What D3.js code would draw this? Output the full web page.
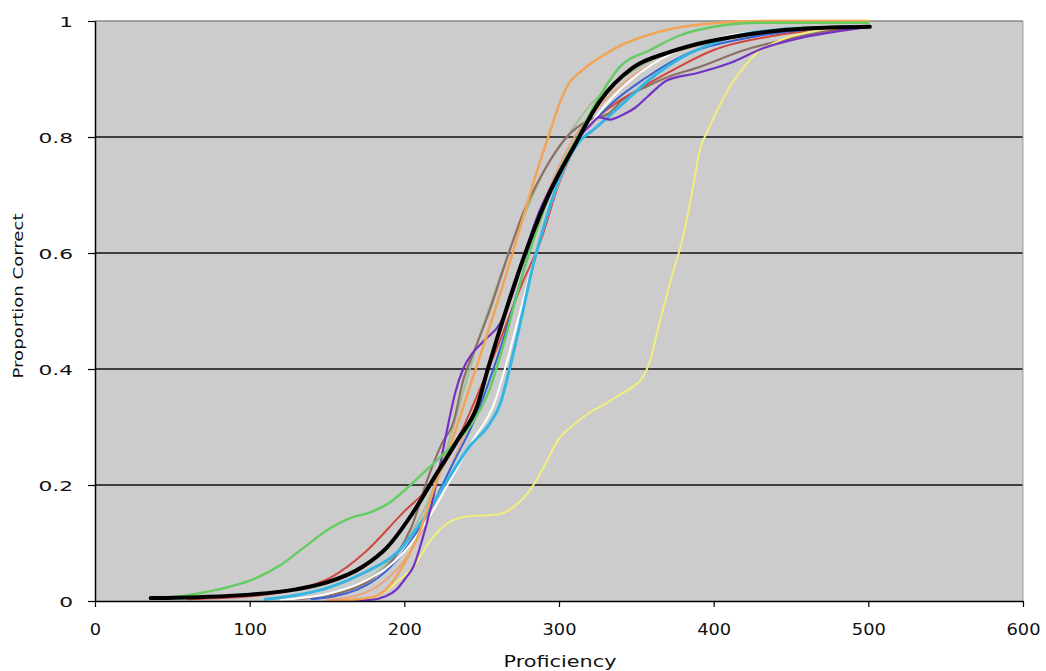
<!DOCTYPE html>
<html>
<head>
<meta charset="utf-8">
<script src="https://cdn.jsdelivr.net/npm/d3@7"></script>
<style>
  html, body { margin: 0; padding: 0; background: #ffffff; }
  svg { display: block; }
</style>
</head>
<body>
<svg id="chart" width="1046" height="671"></svg>
<script>
// ---- Data (proficiency, proportion correct) ----
const xTicks = [0, 100, 200, 300, 400, 500, 600];
const yTicks = [0, 0.2, 0.4, 0.6, 0.8, 1];
const yTickLabels = ["0", "0.2", "0.4", "0.6", "0.8", "1"];

const paleGreenCurve = [[120,0.002],[150,0.01],[175,0.035],[200,0.1],[215,0.17],[226,0.25],[238,0.36],[249,0.46],[258,0.53],[268,0.605],[280,0.68],[292,0.75],[305,0.8],[320,0.855],[340,0.9],[370,0.945],[410,0.975],[460,0.988],[500,0.992]];
const salmonCurve = [[150,0.002],[170,0.01],[185,0.03],[200,0.07],[215,0.14],[230,0.23],[245,0.33],[258,0.43],[270,0.53],[282,0.63],[295,0.72],[310,0.8],[325,0.85],[345,0.9],[370,0.94],[410,0.97],[460,0.985],[500,0.99]];
const brownCurve = [[130,0.003],[160,0.015],[180,0.04],[195,0.08],[205,0.13],[215,0.21],[224,0.27],[232,0.31],[238,0.38],[245,0.43],[255,0.5],[265,0.58],[277,0.67],[290,0.74],[305,0.8],[320,0.83],[332,0.84],[341,0.864],[355,0.885],[370,0.903],[390,0.92],[420,0.95],[450,0.97],[480,0.985],[500,0.99]];
const redCurve = [[60,0.003],[100,0.008],[130,0.02],[152,0.04],[175,0.085],[199,0.152],[217,0.2],[233,0.27],[248,0.36],[262,0.45],[275,0.54],[288,0.62],[300,0.72],[310,0.78],[320,0.82],[335,0.855],[350,0.88],[370,0.91],[400,0.95],[440,0.975],[500,0.99]];
const blueCurve = [[140,0.003],[170,0.02],[195,0.07],[215,0.15],[232,0.24],[245,0.31],[255,0.38],[265,0.46],[275,0.55],[284,0.63],[295,0.71],[308,0.78],[320,0.82],[335,0.86],[355,0.9],[380,0.94],[420,0.97],[460,0.985],[500,0.99]];
const whiteCurve = [[120,0.002],[150,0.012],[175,0.035],[200,0.085],[215,0.14],[228,0.2],[245,0.28],[258,0.34],[266,0.41],[274,0.49],[283,0.58],[293,0.67],[304,0.75],[316,0.805],[330,0.855],[345,0.895],[360,0.925],[380,0.952],[410,0.975],[450,0.986],[500,0.99]];
const cyanCurve = [[110,0.003],[130,0.01],[152,0.024],[175,0.05],[195,0.083],[212,0.14],[228,0.209],[242,0.266],[255,0.305],[262,0.34],[268,0.4],[275,0.48],[283,0.576],[292,0.662],[302,0.74],[314,0.795],[322,0.812],[337,0.847],[359,0.9],[378,0.935],[400,0.962],[421,0.978],[460,0.988],[500,0.99]];
const yellowCurve = [[175,0.0],[186,0.014],[196,0.035],[206,0.059],[217,0.105],[225,0.128],[232,0.14],[238,0.145],[246,0.147],[255,0.148],[262,0.15],[272,0.165],[281,0.19],[290,0.23],[300,0.28],[310,0.305],[320,0.325],[330,0.34],[339,0.355],[348,0.37],[354,0.385],[359,0.415],[364,0.47],[369,0.52],[374,0.57],[378,0.605],[382,0.65],[385,0.69],[388,0.735],[391,0.777],[396,0.81],[403,0.85],[412,0.893],[420,0.922],[428,0.945],[436,0.958],[443,0.967],[460,0.98],[480,0.988],[500,0.99]];
const purpleCurve = [[150,0.0],[178,0.002],[188,0.008],[195,0.02],[201,0.04],[206,0.06],[212,0.11],[217,0.16],[222,0.22],[228,0.3],[233,0.36],[238,0.4],[244,0.427],[252,0.45],[262,0.479],[270,0.53],[278,0.6],[287,0.67],[296,0.72],[304,0.76],[312,0.795],[320,0.82],[326,0.834],[333,0.83],[341,0.838],[349,0.85],[357,0.869],[370,0.898],[389,0.91],[411,0.928],[432,0.953],[455,0.97],[475,0.98],[500,0.99]];
const orangeCurve = [[150,0.0],[170,0.003],[180,0.007],[190,0.025],[199,0.06],[210,0.12],[220,0.2],[230,0.27],[240,0.35],[253,0.455],[262,0.53],[270,0.6],[280,0.69],[288,0.76],[293,0.8],[300,0.855],[305,0.886],[315,0.915],[326,0.936],[340,0.958],[359,0.977],[380,0.99],[400,0.996],[430,1.0],[500,1.0]];
const greenCurve = [[36,0.004],[60,0.01],[80,0.02],[100,0.035],[120,0.062],[135,0.092],[150,0.122],[165,0.143],[178,0.153],[189,0.167],[202,0.195],[210,0.215],[220,0.24],[232,0.27],[244,0.307],[255,0.364],[265,0.45],[275,0.55],[287,0.65],[300,0.74],[312,0.8],[326,0.869],[339,0.92],[359,0.95],[378,0.975],[400,0.99],[430,0.997],[500,0.997]];
const blackCurve = [[36,0.005],[70,0.007],[100,0.011],[130,0.02],[150,0.032],[173,0.059],[189,0.093],[205,0.15],[221,0.22],[235,0.28],[247,0.335],[254,0.4],[268,0.52],[281,0.62],[295,0.71],[310,0.785],[326,0.86],[348,0.92],[370,0.945],[389,0.96],[420,0.976],[460,0.987],[501,0.99]];

const seriesList = [
  { data: paleGreenCurve, color: "#a3bf95", width: 2 },
  { data: salmonCurve,    color: "#e8a684", width: 2 },
  { data: brownCurve,     color: "#8e6f68", width: 2.2 },
  { data: redCurve,       color: "#d0473f", width: 2 },
  { data: blueCurve,      color: "#3a62d4", width: 2 },
  { data: whiteCurve,     color: "#ffffff", width: 2 },
  { data: cyanCurve,      color: "#35b6e2", width: 3 },
  { data: yellowCurve,    color: "#f1ee7c", width: 2 },
  { data: purpleCurve,    color: "#7232c2", width: 2.2 },
  { data: orangeCurve,    color: "#f3a452", width: 2.4 },
  { data: greenCurve,     color: "#64cc62", width: 2.4 },
  { data: blackCurve,     color: "#000000", width: 4 }
];

// ---- Layout ----
const svg = d3.select("#chart");
const plotLeft = 95, plotRight = 1023, plotTop = 21, plotBottom = 601;

const x = d3.scaleLinear().domain([0, 600]).range([plotLeft, plotRight]);
const y = d3.scaleLinear().domain([0, 1]).range([plotBottom, plotTop]);

// plot background
svg.append("rect")
  .attr("x", plotLeft).attr("y", plotTop)
  .attr("width", plotRight - plotLeft).attr("height", plotBottom - plotTop)
  .attr("fill", "#cccccc");

// gridlines
svg.append("g")
  .selectAll("line")
  .data(yTicks.filter(d => d > 0 && d < 1))
  .join("line")
  .attr("x1", plotLeft).attr("x2", plotRight)
  .attr("y1", d => y(d)).attr("y2", d => y(d))
  .attr("stroke", "#111111").attr("stroke-width", 1.6);

// top / right border
svg.append("line").attr("x1", plotLeft).attr("x2", plotRight).attr("y1", plotTop).attr("y2", plotTop)
  .attr("stroke", "#8a8a8a").attr("stroke-width", 1.5);
svg.append("line").attr("x1", plotRight).attr("x2", plotRight).attr("y1", plotTop).attr("y2", plotBottom)
  .attr("stroke", "#a0a0a0").attr("stroke-width", 1);

// curves
const line = d3.line()
  .x(d => x(d[0]))
  .y(d => y(d[1]))
  .curve(d3.curveMonotoneX);

svg.append("clipPath").attr("id", "plotclip")
  .append("rect").attr("x", plotLeft).attr("y", plotTop - 2)
  .attr("width", plotRight - plotLeft).attr("height", plotBottom - plotTop + 2);

svg.append("g").attr("clip-path", "url(#plotclip)")
  .selectAll("path")
  .data(seriesList)
  .join("path")
  .attr("d", d => line(d.data))
  .attr("fill", "none")
  .attr("stroke", d => d.color)
  .attr("stroke-width", d => d.width)
  .attr("stroke-linejoin", "round")
  .attr("stroke-linecap", "round");

// axes
const xAxis = svg.append("g")
  .attr("transform", `translate(0,${plotBottom})`)
  .call(d3.axisBottom(x).tickValues(xTicks).tickSize(6).tickSizeOuter(0).tickFormat(d3.format("d")));
xAxis.select(".domain").attr("stroke", "#000").attr("stroke-width", 1.5);
xAxis.selectAll(".tick line").attr("stroke", "#000").attr("stroke-width", 1.2);
xAxis.selectAll(".tick text")
  .attr("y", 0).attr("dy", null)
  .attr("transform", "translate(0,34) scale(1.19,1)")
  .attr("fill", "#111")
  .style("font-family", "'DejaVu Sans', Verdana, sans-serif")
  .style("font-size", "15px");

const yAxis = svg.append("g")
  .attr("transform", `translate(${plotLeft},0)`)
  .call(d3.axisLeft(y).tickValues(yTicks).tickSize(7).tickSizeOuter(0)
    .tickFormat((d, i) => yTickLabels[i]));
yAxis.select(".domain").attr("stroke", "#000").attr("stroke-width", 1.5);
yAxis.selectAll(".tick line").attr("stroke", "#000").attr("stroke-width", 1.2);
yAxis.selectAll(".tick text")
  .attr("x", 0).attr("dy", "0.36em")
  .attr("transform", "translate(-22,0) scale(1.5,1)")
  .attr("fill", "#111")
  .style("font-family", "'DejaVu Sans', Verdana, sans-serif")
  .style("font-size", "14.5px");

// axis titles
svg.append("text")
  .attr("transform", "translate(560,667) scale(1.3,1)")
  .attr("text-anchor", "middle")
  .attr("fill", "#111")
  .style("font-family", "'DejaVu Sans', Verdana, sans-serif")
  .style("font-size", "16px")
  .text("Proficiency");

svg.append("text")
  .attr("transform", "translate(23,296) rotate(-90)")
  .attr("text-anchor", "middle")
  .attr("fill", "#111")
  .attr("textLength", 165)
  .attr("lengthAdjust", "spacingAndGlyphs")
  .style("font-family", "'DejaVu Sans', Verdana, sans-serif")
  .style("font-size", "14px")
  .text("Proportion Correct");
</script>
</body>
</html>
